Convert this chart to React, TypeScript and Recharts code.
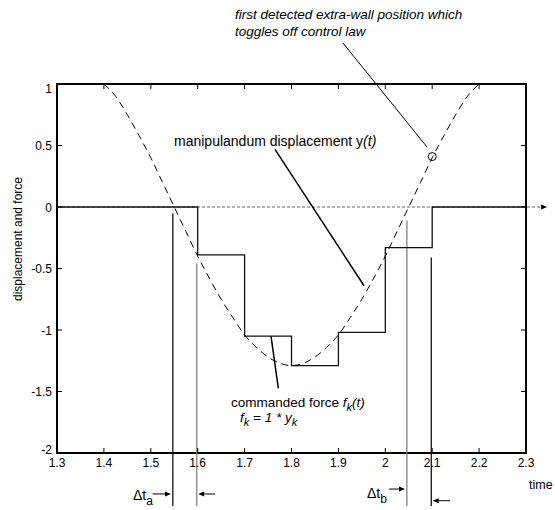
import React from 'react';
import { ComposedChart, Line, XAxis, YAxis, ReferenceLine, ReferenceDot, ReferenceArea } from 'recharts';

// displacement y(t)
const dispTimes = [1.4, 1.425, 1.45, 1.475, 1.5, 1.525, 1.55, 1.575, 1.6, 1.625, 1.65, 1.675, 1.7, 1.725, 1.75, 1.775, 1.8,
  1.825, 1.85, 1.875, 1.9, 1.925, 1.95, 1.975, 2.0, 2.025, 2.05, 2.075, 2.1, 2.125, 2.15, 2.175, 2.2];
const dispValues = [1.0, 0.9, 0.75, 0.58, 0.4, 0.2, 0.0, -0.2, -0.4, -0.58, -0.75, -0.9, -1.04, -1.14, -1.22, -1.27, -1.29,
  -1.27, -1.22, -1.14, -1.04, -0.9, -0.75, -0.58, -0.4, -0.2, 0.0, 0.2, 0.4, 0.58, 0.75, 0.9, 1.0];

// commanded force f_k(t) (zero-order hold)
const forceTimes = [1.3, 1.6, 1.7, 1.8, 1.9, 2.0, 2.1, 2.3];
const forceValues = [0, -0.39, -1.05, -1.29, -1.02, -0.33, 0, 0];

const xTicks = [1.3, 1.4, 1.5, 1.6, 1.7, 1.8, 1.9, 2.0, 2.1, 2.2, 2.3];
const xTickLabels = ['1.3', '1.4', '1.5', '1.6', '1.7', '1.8', '1.9', '2', '2.1', '2.2', '2.3'];
const yTicks = [-2, -1.5, -1, -0.5, 0, 0.5, 1];
const yTickLabels = ['-2', '-1.5', '-1', '-0.5', '0', '0.5', '1'];

// vertical sample-time markers
const markerTimes = [1.547, 1.598, 2.046, 2.098];
const markerTops = [-0.05, -0.46, -0.11, -0.41];
const markerColors = ['#000', '#777', '#777', '#000'];
const markerBottom = -2.43;

// detected point
const detectedT = 2.1;
const detectedV = 0.41;

// leader lines [x1, y1, x2, y2]
const leaders = [
  [1.9098, 1.333, 2.0889, 0.488],
  [1.7648, 0.469, 1.9546, -0.64],
  [1.7563, -1.049, 1.7719, -1.474],
];
const leaderWidths = [1, 1.5, 1.5];

// delta-t arrows [from, to, y]
const deltaArrows = [
  [1.504, 1.543, -2.333],
  [1.637, 1.601, -2.333],
  [2.008, 2.042, -2.293],
  [2.138, 2.101, -2.388],
];

const dispData = dispTimes.map((t, i) => ({ t, v: dispValues[i] }));
const forceData = forceTimes.map((t, i) => ({ t, v: forceValues[i] }));

const FONT = '"Liberation Sans", Arial, Helvetica, sans-serif';

const BottomTick = (props: any) => {
  const { x, y, payload } = props;
  const i = xTicks.indexOf(payload.value);
  return (
    <g>
      <line x1={x} x2={x} y1={y} y2={y - 5} stroke="#000" strokeWidth={1} />
      <text x={x} y={y + 13.5} textAnchor="middle" fontSize={12} fontFamily={FONT} fill="#000">{xTickLabels[i]}</text>
    </g>
  );
};
const TopTick = (props: any) => {
  const { x, y } = props;
  return <line x1={x} x2={x} y1={y} y2={y + 5} stroke="#000" strokeWidth={1} />;
};
const LeftTick = (props: any) => {
  const { x, y, payload } = props;
  const i = yTicks.indexOf(payload.value);
  const dy = i === 0 ? 0.5 : i === yTicks.length - 1 ? 9 : 4.5;
  return (
    <g>
      <line x1={x} x2={x + 5} y1={y} y2={y} stroke="#000" strokeWidth={1} />
      <text x={x - 5} y={y + dy} textAnchor="end" fontSize={12} fontFamily={FONT} fill="#000">{yTickLabels[i]}</text>
    </g>
  );
};
const RightTick = (props: any) => {
  const { x, y } = props;
  return <line x1={x} x2={x - 5} y1={y} y2={y} stroke="#000" strokeWidth={1} />;
};

const arrowShape = (color: string, dash?: string, width = 1) => (props: any) => {
  const { x1, y1, x2, y2 } = props;
  const dx = x2 - x1;
  const dy = y2 - y1;
  const len = Math.sqrt(dx * dx + dy * dy) || 1;
  const ux = dx / len;
  const uy = dy / len;
  const hl = 6;
  const hw = 2.5;
  const bx = x2 - ux * hl;
  const by = y2 - uy * hl;
  const pts = `${x2},${y2} ${bx - uy * hw},${by + ux * hw} ${bx + uy * hw},${by - ux * hw}`;
  return (
    <g>
      <line x1={x1} y1={y1} x2={bx} y2={by} stroke={color} strokeWidth={width} strokeDasharray={dash} />
      <polygon points={pts} fill="#000" stroke="none" />
    </g>
  );
};

export default function App() {
  return (
    <div style={{ position: 'absolute', left: 0, top: 0, width: 555, height: 510, background: '#fff' }}>
      <ComposedChart
        width={555}
        height={510}
        margin={{ top: 83, right: 28, bottom: 0, left: 0 }}
      >
        <XAxis
          dataKey="t"
          type="number"
          domain={[1.3, 2.3]}
          ticks={xTicks}
          allowDataOverflow
          height={57}
          tickSize={0}
          tickMargin={0}
          tickLine={false}
          axisLine={false}
          tick={<BottomTick />}
          interval={0}
        />
        <XAxis
          xAxisId="top"
          orientation="top"
          type="number"
          dataKey="t"
          domain={[1.3, 2.3]}
          ticks={xTicks}
          allowDataOverflow
          height={1}
          tickSize={0}
          tickMargin={0}
          tickLine={false}
          axisLine={false}
          tick={<TopTick />}
          interval={0}
        />
        <YAxis
          type="number"
          domain={[-2, 1]}
          ticks={yTicks}
          allowDataOverflow
          width={57}
          tickSize={0}
          tickMargin={0}
          tickLine={false}
          axisLine={false}
          tick={<LeftTick />}
          interval={0}
        />
        <YAxis
          yAxisId="right"
          orientation="right"
          type="number"
          domain={[-2, 1]}
          ticks={yTicks}
          allowDataOverflow
          width={1}
          tickSize={0}
          tickMargin={0}
          tickLine={false}
          axisLine={false}
          tick={<RightTick />}
          interval={0}
        />

        {/* plot box */}
        <ReferenceArea x1={1.3} x2={2.3} y1={-2} y2={1} fill="none" fillOpacity={0} stroke="#000" strokeWidth={2} ifOverflow="visible" />

        {/* zero line with arrow to "time" */}
        <ReferenceLine
          segment={[{ x: 1.3, y: 0 }, { x: 2.345, y: 0 }]}
          ifOverflow="visible"
          shape={arrowShape('#666', '3 2', 1)}
        />

        {/* sample markers */}
        {markerTimes.map((t, i) => (
          <ReferenceLine
            key={'m' + i}
            segment={[{ x: t, y: markerTops[i] }, { x: t, y: markerBottom }]}
            ifOverflow="visible"
            stroke={markerColors[i]}
            strokeWidth={1.2}
          />
        ))}

        <Line
          data={forceData}
          dataKey="v"
          type="stepAfter"
          stroke="#111"
          strokeWidth={1.3}
          dot={false}
          isAnimationActive={false}
        />
        <Line
          data={dispData}
          dataKey="v"
          type="monotone"
          stroke="#000"
          strokeWidth={1}
          strokeDasharray="7 5"
          dot={false}
          isAnimationActive={false}
        />

        {leaders.map((l, i) => (
          <ReferenceLine
            key={'l' + i}
            segment={[{ x: l[0], y: l[1] }, { x: l[2], y: l[3] }]}
            ifOverflow="visible"
            stroke="#000"
            strokeWidth={leaderWidths[i]}
          />
        ))}

        {deltaArrows.map((a, i) => (
          <ReferenceLine
            key={'a' + i}
            segment={[{ x: a[0], y: a[2] }, { x: a[1], y: a[2] }]}
            ifOverflow="visible"
            shape={arrowShape('#000', undefined, 1)}
          />
        ))}

        <ReferenceDot x={detectedT} y={detectedV} r={4} fill="none" stroke="#000" strokeWidth={1} ifOverflow="visible" />
      </ComposedChart>

      <svg width={555} height={510} style={{ position: 'absolute', left: 0, top: 0, pointerEvents: 'none' }} fontFamily={FONT}>
        <text x={235} y={19} fontSize={13.5} fontStyle="italic" fill="#000">first detected extra-wall position which</text>
        <text x={235} y={36} fontSize={13.5} fontStyle="italic" fill="#000">toggles off control law</text>

        <text x={174} y={146} fontSize={14} fill="#000">
          manipulandum displacement y<tspan fontStyle="italic">(t)</tspan>
        </text>

        <text x={231} y={407} fontSize={13.5} fill="#000">
          commanded force <tspan fontStyle="italic">f</tspan>
          <tspan fontStyle="italic" fontSize={11} dy={4}>k</tspan>
          <tspan fontStyle="italic" dy={-4}>(t)</tspan>
        </text>
        <text x={240} y={422} fontSize={13.5} fontStyle="italic" fill="#000">
          f<tspan fontSize={11} dy={4}>k</tspan>
          <tspan dy={-4}> = 1 * y</tspan>
          <tspan fontSize={11} dy={4}>k</tspan>
        </text>

        <text x={18} y={239} fontSize={12} fill="#000" textAnchor="middle" transform="rotate(-90 18 239)" dominantBaseline="central">
          displacement and force
        </text>

        <text x={529} y={489} fontSize={12.5} fill="#000">time</text>

        <text x={133} y={500} fontSize={14} fill="#000">
          Δt<tspan fontSize={12} dy={5}>a</tspan>
        </text>
        <text x={367} y={498} fontSize={14} fill="#000">
          Δt<tspan fontSize={12} dy={5}>b</tspan>
        </text>
      </svg>
    </div>
  );
}
